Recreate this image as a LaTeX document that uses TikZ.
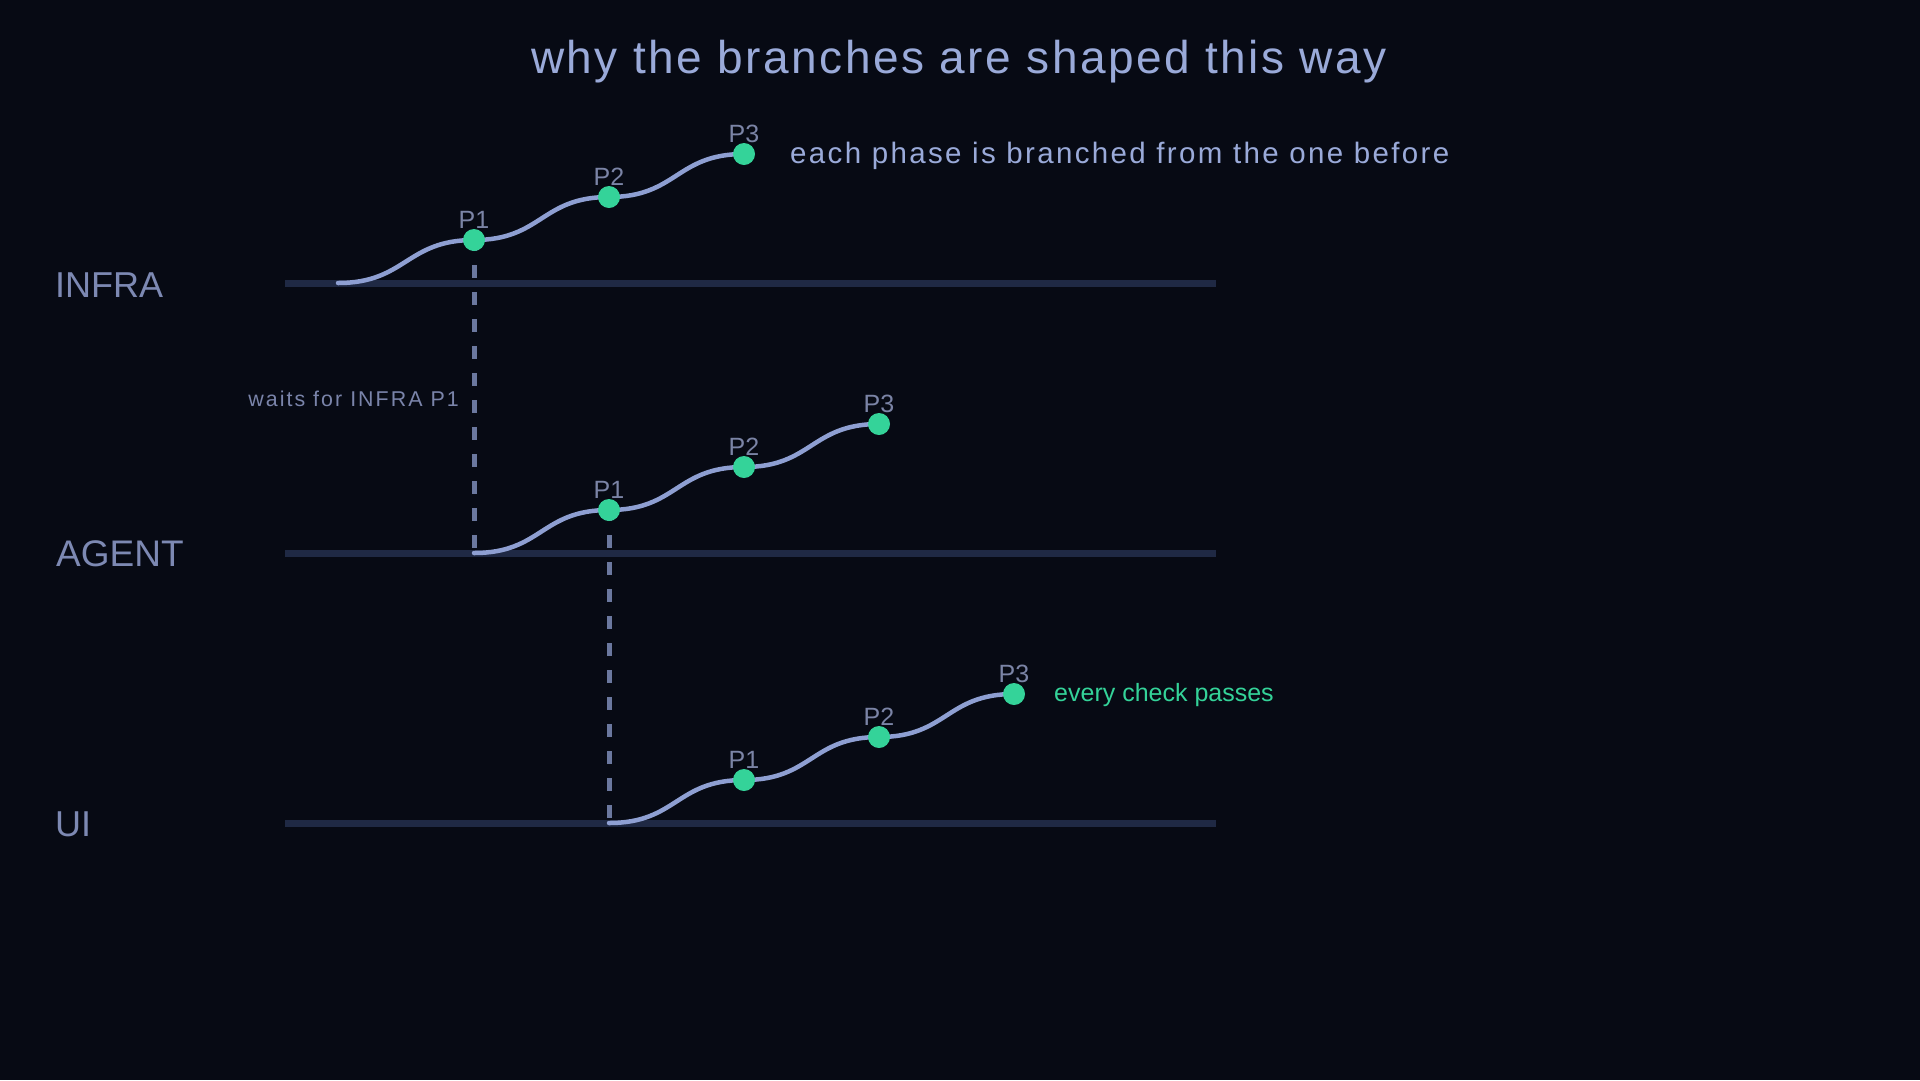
\documentclass[tikz,border=0pt]{standalone}
\usepackage{fontspec}
\setmainfont{Liberation Sans}
\newfontfamily\spacedt[LetterSpace=5.5]{Liberation Sans}
\newfontfamily\spaced[LetterSpace=8]{Liberation Sans}
\newfontfamily\spacedb[LetterSpace=9.5]{Liberation Sans}
\definecolor{bgc}{HTML}{070A14}
\definecolor{basec}{HTML}{1F2944}
\definecolor{curvec}{HTML}{8E9FD2}
\definecolor{dotc}{HTML}{34D399}
\definecolor{depc}{HTML}{6B789F}
\definecolor{titlec}{HTML}{9AAAD9}
\definecolor{lanec}{HTML}{7D89B3}
\definecolor{plc}{HTML}{7B84A6}
\definecolor{waitc}{HTML}{7A84AA}
\tikzset{
  lane/.style={draw=basec, line width=7pt},
  br/.style={draw=curvec, line width=4.5pt, line cap=round},
  dot/.style={circle, fill=dotc, minimum size=22pt, inner sep=0pt},
  plabel/.style={text=plc, font=\fontsize{25}{25}\selectfont, anchor=base, inner sep=0pt},
  lanelabel/.style={text=lanec, font=\fontsize{36}{36}\selectfont, anchor=base west, inner sep=0pt},
  dep/.style={draw=depc, line width=5pt, dash pattern=on 13pt off 14pt, dash phase=2pt},
}
\begin{document}
\begin{tikzpicture}[x=1pt,y=-1pt]
\fill[bgc] (0,0) rectangle (1920,1080);
\useasboundingbox (0,0) rectangle (1920,1080);

% title
\node[anchor=base, inner sep=0pt, text=titlec, font=\spacedt\fontsize{46}{46}\selectfont] (title) at (959,73) {why the branches are shaped this way};

% lane labels
\node[lanelabel] (linfra) at (55,297) {INFRA};
\node[lanelabel, font=\fontsize{37}{37}\selectfont] (lagent) at (56,566) {AGENT};
\node[lanelabel] (lui) at (55,836) {UI};

% lane lines
\coordinate (iL) at (285,283); \coordinate (iR) at (1216,283);
\coordinate (aL) at (285,553); \coordinate (aR) at (1216,553);
\coordinate (uL) at (285,823); \coordinate (uR) at (1216,823);

% branch points
\coordinate (i0) at (338,283); \coordinate (i1) at (474,240); \coordinate (i2) at (609,197); \coordinate (i3) at (744,154);
\coordinate (a0) at (474,553); \coordinate (a1) at (609,510); \coordinate (a2) at (744,467); \coordinate (a3) at (879,424);
\coordinate (u0) at (609,823); \coordinate (u1) at (744,780); \coordinate (u2) at (879,737); \coordinate (u3) at (1014,694);

% dependencies
\draw[dep] (i1) -- (a0);
\draw[dep] (a1) -- (u0);

\draw[lane] (iL) -- (iR);
\draw[lane] (aL) -- (aR);
\draw[lane] (uL) -- (uR);

% branches
\foreach \p in {i,a,u}{
  \draw[br] (\p0) .. controls +(68,0) and +(-68,0) .. (\p1)
                  .. controls +(68,0) and +(-68,0) .. (\p2)
                  .. controls +(68,0) and +(-68,0) .. (\p3);
}

% dots and labels
\foreach \p in {i,a,u}{
  \foreach \k in {1,2,3}{
    \node[dot] (d\p\k) at (\p\k) {};
    \node[plabel] (t\p\k) at ([yshift=12pt]\p\k) {P\k};
  }
}

% annotations
\node[anchor=base west, inner sep=0pt, text=titlec, font=\spaced\fontsize{29.5}{29.5}\selectfont] (note1) at (790,163) {each phase is branched from the one before};
\node[anchor=base east, inner sep=0pt, text=waitc, font=\spacedb\fontsize{21.4}{21.4}\selectfont] (note2) at (459,406) {waits for INFRA P1};
\node[anchor=base west, inner sep=0pt, text=dotc, font=\fontsize{25}{25}\selectfont] (note3) at (1054,701) {every check passes};
\end{tikzpicture}
\end{document}
